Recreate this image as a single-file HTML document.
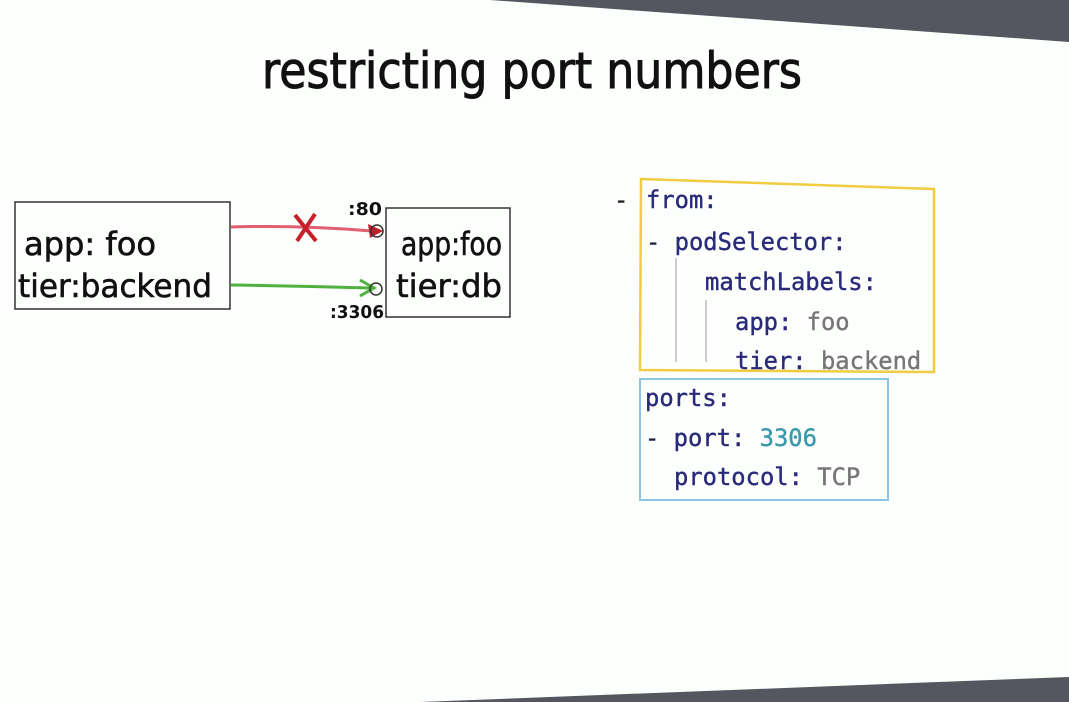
<!DOCTYPE html>
<html><head><style>
html,body{margin:0;padding:0;background:#fdfffd;}
svg{display:block;}
</style></head><body>
<svg width="1069" height="702" xmlns="http://www.w3.org/2000/svg">
<rect width="1069" height="702" fill="#fdfffd"/>
<polygon points="490,0 1069,0 1069,42" fill="#54575f"/>
<polygon points="420,702 1069,677 1069,702" fill="#54575f"/>
<text x="262" y="88" font-family="DejaVu Sans, sans-serif" font-size="50" fill="#111" stroke="#111" stroke-width="1" textLength="540" lengthAdjust="spacingAndGlyphs">restricting port numbers</text>
<!-- left box -->
<rect x="15" y="202" width="215" height="107" fill="none" stroke="#333" stroke-width="1.5"/>
<text x="24" y="255" font-family="DejaVu Sans, sans-serif" font-size="32" fill="#111" stroke="#111" stroke-width="0.6" textLength="132" lengthAdjust="spacingAndGlyphs">app: foo</text>
<text x="18" y="297" font-family="DejaVu Sans, sans-serif" font-size="32" fill="#111" stroke="#111" stroke-width="0.6" textLength="194" lengthAdjust="spacingAndGlyphs">tier:backend</text>
<!-- right box -->
<rect x="386" y="208" width="124" height="109" fill="none" stroke="#333" stroke-width="1.5"/>
<text x="401" y="255" font-family="DejaVu Sans, sans-serif" font-size="32" fill="#111" stroke="#111" stroke-width="0.6" textLength="101" lengthAdjust="spacingAndGlyphs">app:foo</text>
<text x="396" y="297" font-family="DejaVu Sans, sans-serif" font-size="32" fill="#111" stroke="#111" stroke-width="0.6" textLength="106" lengthAdjust="spacingAndGlyphs">tier:db</text>
<!-- arrows -->
<path d="M231 227 Q300 225 372 231" stroke="#e06070" stroke-width="3" fill="none"/>
<polygon points="383,231 368,224 370,238" fill="#c0202a"/>
<path d="M231 285 Q300 286 370 288" stroke="#50b040" stroke-width="3" fill="none"/>
<path d="M360 280 L374 288 L360 296" stroke="#50b040" stroke-width="3" fill="none"/>
<circle cx="377" cy="231" r="6" fill="none" stroke="#333" stroke-width="1.5"/>
<circle cx="376" cy="289" r="6" fill="none" stroke="#333" stroke-width="1.5"/>
<path d="M295 215 L316 241 M315 214 L297 241" stroke="#c8202a" stroke-width="4"/>
<text x="348" y="215" font-family="DejaVu Sans, sans-serif" font-size="18" font-weight="bold" fill="#111" textLength="34" lengthAdjust="spacingAndGlyphs">:80</text>
<text x="330" y="318" font-family="DejaVu Sans, sans-serif" font-size="18" font-weight="bold" fill="#111" textLength="54" lengthAdjust="spacingAndGlyphs">:3306</text>
<!-- code boxes -->
<polygon points="641,179 934,189 934,372 640,370" fill="none" stroke="#f0cc40" stroke-width="2.5"/>
<rect x="640" y="379" width="248" height="121" fill="none" stroke="#8cc4e4" stroke-width="2"/>
<line x1="676" y1="258" x2="676" y2="362" stroke="#bbb" stroke-width="1.5"/>
<line x1="706" y1="300" x2="706" y2="362" stroke="#bbb" stroke-width="1.5"/>
<g font-family="DejaVu Sans Mono, Liberation Mono, monospace" font-size="23.8" fill="#2a2a7a" stroke="#2a2a7a" stroke-width="0.4">
<text x="614" y="208" fill="#222" stroke="#222">-</text>
<text x="646" y="208">from:</text>
<text x="646" y="250"><tspan fill="#222">-</tspan> podSelector:</text>
<text x="705" y="290">matchLabels:</text>
<text x="735" y="330">app: <tspan fill="#777" stroke="#777">foo</tspan></text>
<text x="735" y="369">tier: <tspan fill="#777" stroke="#777">backend</tspan></text>
<text x="645" y="406">ports:</text>
<text x="645" y="446"><tspan fill="#222">-</tspan> port: <tspan fill="#3a9aaa" stroke="#3a9aaa">3306</tspan></text>
<text x="674" y="485">protocol: <tspan fill="#777" stroke="#777">TCP</tspan></text>
</g>
</svg>
</body></html>
